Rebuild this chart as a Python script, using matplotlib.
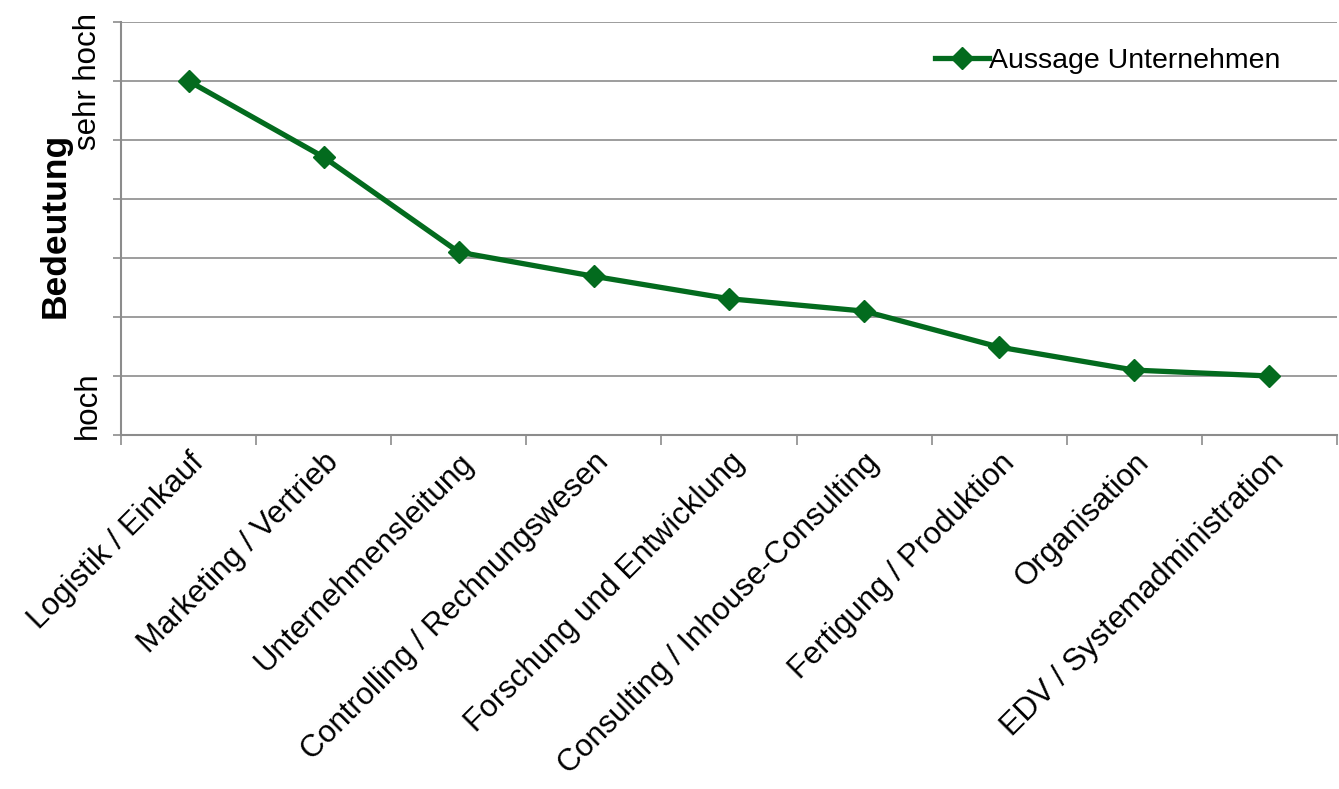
import matplotlib
matplotlib.use("Agg")
import matplotlib.pyplot as plt
from matplotlib.ticker import FixedLocator, NullFormatter

plt.rcParams['font.family'] = ['Liberation Sans', 'DejaVu Sans']

categories = ["Logistik / Einkauf", "Marketing / Vertrieb", "Unternehmensleitung",
              "Controlling / Rechnungswesen", "Forschung und Entwicklung",
              "Consulting / Inhouse-Consulting", "Fertigung / Produktion",
              "Organisation", "EDV / Systemadministration"]
values = [6.0, 4.71, 3.10, 2.69, 2.31, 2.10, 1.49, 1.10, 1.0]
series_name = "Aussage Unternehmen"

green = '#036b1e'
grid = '#8c8c8c'

fig = plt.figure(figsize=(13.39, 7.89), dpi=100)
ax = fig.add_axes([121/1339, (789-435)/789, (1337-121)/1339, (435-22)/789])

x = list(range(len(categories)))
ax.plot(x, values, color=green, lw=3.8, marker='D', markersize=11, label=series_name)

ax.set_xlim(-0.5, len(categories) - 0.5)
ax.set_ylim(0, 7)
ax.yaxis.set_major_locator(FixedLocator(range(0, 8)))
ax.yaxis.set_major_formatter(NullFormatter())
ax.grid(axis='y', color=grid, lw=1.2)
ax.set_axisbelow(True)
for s in ['top', 'right']:
    ax.spines[s].set_visible(False)
for s in ['left', 'bottom']:
    ax.spines[s].set_color(grid)
    ax.spines[s].set_linewidth(1.5)
ax.tick_params(axis='y', length=6, color=grid, width=1.2, direction='out')

ax.set_xticks([i - 0.5 for i in range(len(categories) + 1)])
ax.xaxis.set_major_formatter(NullFormatter())
ax.tick_params(axis='x', length=7, color=grid, width=1.2, direction='out')
ax.set_xticks(x, minor=True)
ax.set_xticklabels(categories, minor=True, rotation=45, ha='right', va='top',
                   rotation_mode='anchor', fontsize=22.3)
ax.tick_params(axis='x', which='minor', length=0, pad=9)

ax.text(-0.0145, 6.0, "sehr hoch", transform=ax.get_yaxis_transform(), rotation=90,
        ha='right', va='center', fontsize=22.5)
ax.text(-0.0145, 0.5, "hoch", transform=ax.get_yaxis_transform(), rotation=90,
        ha='right', va='center', fontsize=22.5)
ax.text(-0.041, 3.56, "Bedeutung", transform=ax.get_yaxis_transform(), rotation=90,
        ha='right', va='center', fontsize=25.5, fontweight='bold')

leg = ax.legend(loc='upper right', bbox_to_anchor=(0.97, 0.985), frameon=False,
                fontsize=20.5, handlelength=1.9, handletextpad=0.0, borderaxespad=0.3)

fig.savefig("out.png", dpi=100)
